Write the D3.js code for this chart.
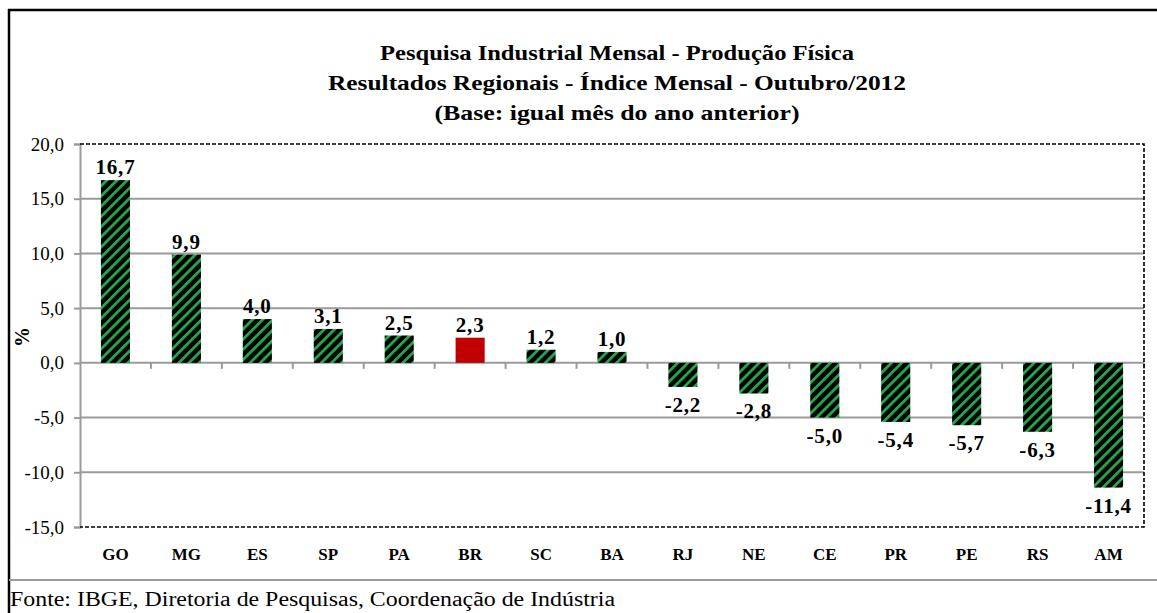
<!DOCTYPE html>
<html><head><meta charset="utf-8">
<script src="https://cdn.jsdelivr.net/npm/d3@7"></script>
<style>body{margin:0;background:#fff;overflow:hidden}</style></head>
<body><svg id="c" width="1157" height="613"></svg>
<script>
const categories = ["GO","MG","ES","SP","PA","BR","SC","BA","RJ","NE","CE","PR","PE","RS","AM"];
const values = [16.7, 9.9, 4.0, 3.1, 2.5, 2.3, 1.2, 1.0, -2.2, -2.8, -5.0, -5.4, -5.7, -6.3, -11.4];
const highlighted = ["BR"];
const yTicks = [-15, -10, -5, 0, 5, 10, 15, 20];
const titleLines = [
  "Pesquisa Industrial Mensal - Produção Física",
  "Resultados Regionais - Índice Mensal - Outubro/2012",
  "(Base: igual mês do ano anterior)"
];
const yAxisLabel = "%";
const sourceText = "Fonte: IBGE, Diretoria de Pesquisas, Coordenação de Indústria";

const FONT = "'Liberation Serif', 'Times New Roman', serif";
const svg = d3.select("#c");
const W = 1157, H = 613;
const plot = {left: 80, right: 1144, top: 144, bottom: 527};

const locale = d3.formatLocale({decimal: ",", thousands: ".", grouping: [3], currency: ["R$", ""], minus: "-"});
const fmt = locale.format(".1f");

// pattern
const defs = svg.append("defs");
const pat = defs.append("pattern").attr("id", "stripes").attr("patternUnits", "userSpaceOnUse")
  .attr("width", 7.2).attr("height", 7.2).attr("patternTransform", "rotate(45)");
pat.append("rect").attr("width", 7.2).attr("height", 7.2).attr("fill", "#000");
pat.append("rect").attr("x", 0).attr("width", 2.8).attr("height", 7.2).attr("fill", "#22a84b");

// outer frame
svg.append("rect").attr("x", 0).attr("y", 0).attr("width", W).attr("height", H).attr("fill", "#fff");
svg.append("line").attr("x1", 8).attr("x2", W).attr("y1", 10).attr("y2", 10).attr("stroke", "#000").attr("stroke-width", 2.5);
svg.append("line").attr("x1", 9).attr("x2", 9).attr("y1", 9).attr("y2", H).attr("stroke", "#000").attr("stroke-width", 2.5);
svg.append("line").attr("x1", 9).attr("x2", W).attr("y1", 580).attr("y2", 580).attr("stroke", "#9a9a9a").attr("stroke-width", 2);

// title
const titleWidths = [474, 578, 365];
svg.append("g").selectAll("text").data(titleLines).join("text")
  .attr("x", 617).attr("y", (d, i) => 60 + i * 30)
  .attr("text-anchor", "middle").attr("font-family", FONT).attr("font-weight", "bold")
  .attr("font-size", 21).attr("fill", "#000")
  .attr("textLength", (d, i) => titleWidths[i]).attr("lengthAdjust", "spacingAndGlyphs")
  .text(d => d);

// scales
const x = d3.scaleBand().domain(categories).range([plot.left, plot.right]).paddingInner(0.59).paddingOuter(0.295);
const y = d3.scaleLinear().domain([-15, 20]).range([plot.bottom, plot.top]);
const step = x.step();

// grid lines
svg.append("g").selectAll("line").data(yTicks.filter(t => t > -15 && t < 20)).join("line")
  .attr("x1", plot.left).attr("x2", plot.right).attr("y1", d => y(d)).attr("y2", d => y(d))
  .attr("stroke", "#9a9a9a").attr("stroke-width", 2);

// y axis
const yAxis = d3.axisLeft(y).tickValues(yTicks).tickFormat(fmt).tickSize(6).tickPadding(10);
const gy = svg.append("g").attr("transform", `translate(${plot.left},0)`).call(yAxis);
gy.select(".domain").attr("stroke", "#9a9a9a").attr("stroke-width", 2);
gy.selectAll(".tick line").attr("stroke", "#9a9a9a").attr("stroke-width", 2);
gy.selectAll(".tick text").attr("font-family", FONT).attr("font-size", 19).attr("fill", "#000");

// x tick marks on zero line
const boundaries = d3.range(categories.length + 1).map(i => plot.left + i * step);
svg.append("g").selectAll("line").data(boundaries.slice(1)).join("line")
  .attr("x1", d => d).attr("x2", d => d).attr("y1", y(0)).attr("y2", y(0) + 6)
  .attr("stroke", "#9a9a9a").attr("stroke-width", 2);

// plot frame dashed
const frame = d3.path();
frame.moveTo(plot.left, plot.top); frame.lineTo(plot.right, plot.top);
frame.lineTo(plot.right, plot.bottom); frame.lineTo(plot.left, plot.bottom);
svg.append("path").attr("d", frame.toString()).attr("fill", "none")
  .attr("stroke", "#000").attr("stroke-width", 1.6).attr("stroke-dasharray", "4,2");

// bars
const data = categories.map((c, i) => ({c, v: values[i]}));
svg.append("g").selectAll("rect").data(data).join("rect")
  .attr("x", d => x(d.c)).attr("width", x.bandwidth())
  .attr("y", d => y(Math.max(0, d.v))).attr("height", d => Math.abs(y(d.v) - y(0)))
  .attr("fill", d => highlighted.includes(d.c) ? "#c00000" : "url(#stripes)");

// value labels
svg.append("g").selectAll("text").data(data).join("text")
  .attr("x", d => x(d.c) + x.bandwidth() / 2)
  .attr("y", d => d.v >= 0 ? y(d.v) - 6 : y(d.v) + 25)
  .attr("text-anchor", "middle").attr("font-family", FONT).attr("font-weight", "bold")
  .attr("font-size", 21).attr("letter-spacing", 0.8).attr("fill", "#000")
  .text(d => fmt(d.v));

// x category labels
svg.append("g").selectAll("text").data(categories).join("text")
  .attr("x", d => x(d) + x.bandwidth() / 2).attr("y", 560)
  .attr("text-anchor", "middle").attr("font-family", FONT).attr("font-weight", "bold")
  .attr("font-size", 17).attr("fill", "#000")
  .text(d => d);

// y axis title
svg.append("text").attr("transform", "translate(29,337) rotate(-90)")
  .attr("text-anchor", "middle").attr("font-family", FONT).attr("font-weight", "bold")
  .attr("font-size", 20).attr("fill", "#000").text(yAxisLabel);

// source
svg.append("text").attr("x", 10).attr("y", 606).attr("font-family", FONT)
  .attr("font-size", 20).attr("fill", "#000")
  .attr("textLength", 605).attr("lengthAdjust", "spacingAndGlyphs")
  .text(sourceText);
</script></body></html>
